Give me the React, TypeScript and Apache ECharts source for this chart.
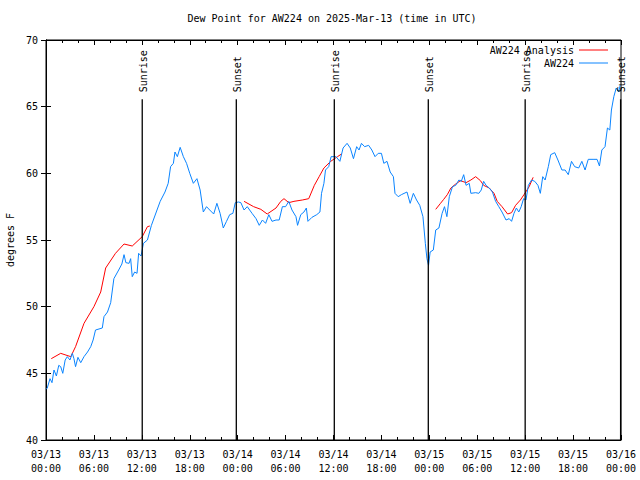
import React, { useEffect, useRef } from "react";
import * as echarts from "echarts";

const TITLE = "Dew Point for AW224 on 2025-Mar-13 (time in UTC)";
const Y_NAME = "degrees F";
const RED_NAME = "AW224 Analysis";
const BLUE_NAME = "AW224";

// hours since 03/13 00:00 UTC
const blueHours = [
  0.0, 0.16, 0.5, 0.75, 1.0, 1.3, 1.6, 1.84, 2.1, 2.4, 2.67, 3.0, 3.3, 3.5, 3.7, 4.0, 4.35, 4.76, 5.2, 5.6,
  5.9, 6.2, 7.05, 7.26, 7.7, 8.1, 8.5, 9.1, 9.5, 9.77, 10.0, 10.4, 10.6, 10.8, 11.1, 11.4, 11.6, 11.9, 12.2, 12.7,
  13.2, 13.9, 14.3, 14.9, 15.3, 15.6, 15.95, 16.15, 16.45, 16.8, 17.2, 17.6, 18.0, 18.45, 18.9, 19.3, 19.7, 20.1, 20.5, 21.0,
  21.4, 21.8, 22.2, 22.6, 23.0, 23.4, 23.7, 24.1, 24.4, 24.8, 25.2, 25.8, 26.3, 26.7, 27.1, 27.5, 27.9, 28.3, 28.8, 29.2,
  29.6, 30.0, 30.4, 30.8, 31.3, 31.5, 31.9, 32.3, 32.6, 32.8, 33.3, 33.9, 34.3, 34.5, 34.8, 35.0, 35.4, 35.7, 36.3, 36.8,
  37.2, 37.7, 38.1, 38.5, 38.9, 39.2, 39.5, 39.9, 40.4, 40.8, 41.2, 41.6, 42.0, 42.3, 42.7, 43.1, 43.5, 43.7, 44.1, 44.5,
  45.2, 45.6, 46.0, 46.4, 46.8, 47.2, 47.5, 47.7, 47.9, 48.1, 48.5, 48.8, 49.2, 49.6, 49.9, 50.2, 50.5, 50.9, 51.3, 51.7,
  52.0, 52.3, 52.6, 53.0, 53.2, 53.8, 54.2, 54.5, 54.8, 55.1, 55.5, 55.9, 56.3, 56.7, 57.1, 57.6, 58.0, 58.3, 58.6, 58.9,
  59.2, 59.5, 59.8, 60.1, 60.4, 60.8, 61.2, 61.6, 61.9, 62.2, 62.5, 62.9, 63.2, 63.7, 64.1, 64.6, 65.0, 65.4, 65.8, 66.2,
  66.7, 67.1, 67.5, 67.9, 68.5, 69.0, 69.3, 69.6, 70.0, 70.3, 70.6, 70.8, 71.1, 71.4, 71.7, 71.9,
];
const blueValues = [
  43.8, 43.9, 44.6, 44.3, 45.25, 44.8, 45.6, 45.5, 45.0, 46.0, 46.25, 46.0, 46.5, 46.1, 45.5, 46.2, 45.8, 46.25, 46.6, 47.0,
  47.5, 48.25, 48.4, 49.25, 49.6, 50.3, 52.1, 52.75, 53.2, 53.9, 53.3, 53.25, 53.6, 52.25, 52.6, 52.5, 54.0, 53.8, 54.75, 55.0,
  56.1, 57.25, 57.9, 58.6, 59.25, 60.5, 60.75, 61.6, 61.25, 61.95, 61.25, 60.75, 60.0, 59.25, 59.6, 58.75, 57.1, 57.5, 57.25, 56.95,
  57.75, 57.0, 55.9, 56.4, 56.9, 57.0, 57.8, 57.85, 57.8, 57.25, 57.5, 57.0, 56.6, 56.1, 56.5, 56.25, 56.9, 56.4, 56.5, 56.5,
  57.5, 57.5, 57.9, 57.25, 56.75, 56.1, 56.9, 57.1, 57.4, 56.4, 56.7, 56.9, 57.1, 58.5, 59.25, 60.25, 60.5, 61.25, 61.25, 60.9,
  61.9, 62.25, 61.9, 61.1, 62.0, 61.75, 62.25, 62.0, 62.1, 61.75, 61.25, 61.5, 61.5, 60.75, 60.9, 60.1, 59.75, 58.5, 58.25, 58.4,
  58.6, 57.75, 58.5, 58.0, 57.6, 56.75, 54.75, 53.6, 53.1, 54.1, 54.25, 55.75, 55.9, 57.0, 57.5, 56.75, 58.25, 59.0, 59.1, 59.5,
  59.4, 59.9, 59.1, 59.25, 58.5, 58.55, 58.5, 58.75, 59.4, 59.1, 58.9, 58.6, 57.9, 57.5, 57.1, 56.5, 56.6, 56.4, 57.0, 57.4,
  57.1, 57.5, 58.1, 58.0, 59.1, 59.5, 59.4, 59.1, 58.5, 59.75, 59.5, 60.5, 61.4, 61.55, 61.0, 60.25, 60.25, 59.9, 60.9, 60.5,
  60.4, 60.9, 60.25, 61.05, 61.05, 61.05, 60.55, 61.75, 62.0, 63.4, 63.25, 64.75, 65.75, 66.4, 66.1, 66.6,
];

// null marks a gap in the analysis
const redHours = [
  0.66, 1.84, 3.1, 3.7, 4.76, 6.0, 6.85, 7.47, 8.7, 9.77, 10.8, 12.05, 12.7, 13.0,
  18.0,
  24.8, 26.0, 26.9, 27.7, 28.8, 29.4, 29.8, 30.4, 31.05, 32.1, 32.9, 33.6, 34.2, 34.8, 35.65, 36.5, 37.0,
  42.0,
  48.8, 49.4, 49.8, 50.25, 50.7, 51.3, 51.9, 52.6, 53.2, 53.8, 54.4, 54.8, 55.5, 56.1, 56.5, 57.1, 57.8, 58.3, 58.8, 59.4, 59.85, 60.5, 61.0,
];
const redValues = [
  46.1, 46.5, 46.25, 47.0, 48.75, 50.0, 51.1, 52.9, 54.0, 54.7, 54.55, 55.25, 56.0, 56.05,
  null,
  57.9, 57.5, 57.3, 56.95, 57.4, 57.9, 58.1, 57.8, 57.9, 58.0, 58.1, 59.1, 59.75, 60.4, 60.9, 61.25, 61.45,
  null,
  57.3, 57.75, 58.05, 58.4, 58.9, 59.2, 59.45, 59.3, 59.5, 59.75, 59.45, 59.1, 58.9, 58.5, 57.9, 57.5, 56.95, 57.05, 57.6, 58.0, 58.4, 59.0, 59.7,
];

const sunHours = [12.05, 23.83, 36.1, 47.87, 60.0, 71.95];
const sunLabels = ["Sunrise", "Sunset", "Sunrise", "Sunset", "Sunrise", "Sunset"];
const sunLineTop = 65.55;

const xMin = 0;
const xMax = 72;
const xInterval = 6;
const yMin = 40;
const yMax = 70;
const yInterval = 5;

const FONT = '"DejaVu Sans Mono", "Liberation Mono", monospace';

function fmtX(h: number): string {
  const day = 13 + Math.floor(h / 24);
  const hr = Math.round(h % 24);
  const hh = hr < 10 ? "0" + hr : "" + hr;
  return "03/" + day + "\n" + hh + ":00";
}

export default function App() {
  const ref = useRef<HTMLDivElement>(null);
  useEffect(() => {
    document.body.style.margin = "0";
    if (!ref.current) return;
    const chart = echarts.init(ref.current, null, { renderer: "svg" });
    const blueData = blueHours.map((h, i) => [h, blueValues[i]]);
    const redData = redHours.map((h, i) => [h, redValues[i] === null ? "-" : redValues[i]]);
    const sunData = sunHours.map((h, i) => [h, yMin, sunLabels[i]]);
    const axisLine = { show: true, lineStyle: { color: "#000", width: 1 } };
    const textBase = { color: "#000", fontFamily: FONT, fontSize: 10 };
    chart.setOption({
      animation: false,
      backgroundColor: "#fff",
      title: {
        text: TITLE,
        left: 327,
        textAlign: "center",
        top: 8,
        textStyle: { ...textBase, fontWeight: "normal" },
      },
      legend: {
        data: [
          { name: RED_NAME, icon: "rect" },
          { name: BLUE_NAME, icon: "rect" },
        ],
        orient: "vertical",
        right: 27,
        top: 39,
        align: "right",
        itemWidth: 29,
        itemHeight: 1,
        itemGap: 1,
        textStyle: { ...textBase, lineHeight: 12 },
      },
      grid: {
        left: 46,
        right: 19,
        top: 40,
        bottom: 40,
        show: true,
        borderColor: "#000",
        borderWidth: 1,
        outerBoundsMode: "none",
        containLabel: false,
      },
      xAxis: [
        {
          type: "value",
          min: xMin,
          max: xMax,
          interval: xInterval,
          axisLine,
          axisTick: { show: true, inside: true, length: 5, lineStyle: { color: "#000" } },
          minorTick: { show: true, splitNumber: 3, length: 3, lineStyle: { color: "#000" } },
          splitLine: { show: false },
          axisLabel: { ...textBase, margin: 7, lineHeight: 14, formatter: (v: number) => fmtX(v) },
        },
        {
          type: "value",
          position: "top",
          min: xMin,
          max: xMax,
          interval: xInterval,
          axisLine,
          axisTick: { show: true, inside: true, length: 5, lineStyle: { color: "#000" } },
          minorTick: { show: true, splitNumber: 3, length: 3, lineStyle: { color: "#000" } },
          splitLine: { show: false },
          axisLabel: { show: false },
        },
      ],
      yAxis: [
        {
          type: "value",
          min: yMin,
          max: yMax,
          interval: yInterval,
          axisLine,
          axisTick: { show: true, inside: true, length: 5, lineStyle: { color: "#000" } },
          splitLine: { show: false },
          axisLabel: { ...textBase, margin: 8 },
          name: Y_NAME,
          nameLocation: "middle",
          nameRotate: 90,
          nameGap: 31,
          nameTextStyle: { ...textBase },
        },
        {
          type: "value",
          position: "right",
          min: yMin,
          max: yMax,
          interval: yInterval,
          axisLine,
          axisTick: { show: true, inside: true, length: 5, lineStyle: { color: "#000" } },
          splitLine: { show: false },
          axisLabel: { show: false },
        },
      ],
      series: [
        {
          type: "custom",
          name: "sun",
          xAxisIndex: 0,
          yAxisIndex: 0,
          data: sunData,
          encode: { x: 0, y: 1 },
          silent: true,
          z: 5,
          renderItem: (params: any, api: any) => {
            const h = api.value(0);
            const idx = params.dataIndex;
            const bottom = api.coord([h, yMin]);
            const top = api.coord([h, sunLineTop]);
            return {
              type: "group",
              children: [
                {
                  type: "line",
                  shape: { x1: bottom[0], y1: bottom[1], x2: top[0], y2: top[1] },
                  style: { stroke: "#000", lineWidth: 1.3 },
                },
                {
                  type: "text",
                  x: top[0] + 1,
                  y: top[1] - 7,
                  rotation: Math.PI / 2,
                  style: {
                    text: sunLabels[idx],
                    fill: "#000",
                    font: "10px " + FONT,
                    align: "left",
                    verticalAlign: "middle",
                  },
                },
              ],
            };
          },
        },
        {
          type: "line",
          name: RED_NAME,
          data: redData,
          showSymbol: false,
          symbol: "none",
          connectNulls: false,
          lineStyle: { color: "#ff0000", width: 1 },
          itemStyle: { color: "#ff0000" },
          z: 3,
        },
        {
          type: "line",
          name: BLUE_NAME,
          data: blueData,
          showSymbol: false,
          symbol: "none",
          lineStyle: { color: "#0a84ff", width: 1 },
          itemStyle: { color: "#0a84ff" },
          z: 4,
        },
      ],
    });
    return () => chart.dispose();
  }, []);
  return <div ref={ref} style={{ width: 640, height: 480 }} />;
}
